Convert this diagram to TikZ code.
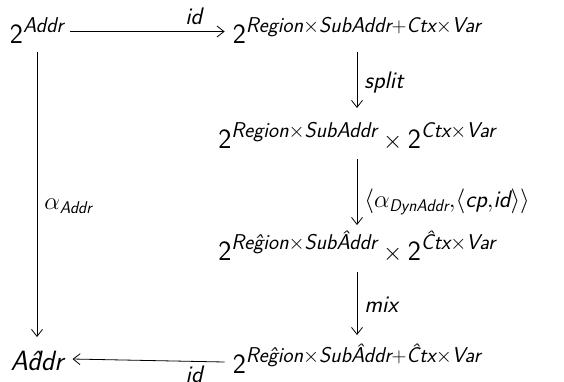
\documentclass[tikz,border=0pt]{standalone}
\usepackage{amsmath}
\usetikzlibrary{arrows.meta}
% object and label sizes with their script sizes
\DeclareMathSizes{28}{28}{21.5}{16}
\DeclareMathSizes{24}{24}{17}{13}
% variable names in sloped sans, the constant 2 in upright sans
\newcommand{\vn}[1]{\textsf{\itshape #1}}
\newcommand{\tw}{\textsf{2}}
\begin{document}
\begin{tikzpicture}[x=1bp,y=-1bp,
  every node/.style={inner sep=0pt},
  obj/.style={anchor=base, font=\fontsize{28}{33}\selectfont},
  lbl/.style={font=\fontsize{24}{28}\selectfont},
  map/.style={line width=0.8bp, -{Straight Barb[length=7bp,width=11bp]}}]
\useasboundingbox (0,0) rectangle (564,381);

% objects
\node[obj] (A) at (37,43) {$\tw^{\vn{Addr}}$};
\node[obj] (B) at (357,43) {$\tw^{\vn{Region}\times\vn{SubAddr}+\vn{Ctx}\times\vn{Var}}$};
\node[obj] (C) at (357,148) {$\tw^{\vn{Region}\times\vn{SubAddr}}\times\tw^{\vn{Ctx}\times\vn{Var}}$};
\node[obj] (D) at (357,260) {$\tw^{\vn{Re\^gion}\times\vn{Sub\^Addr}}\times\tw^{\vn{\^Ctx}\times\vn{Var}}$};
\node[obj] (E) at (357,373) {$\tw^{\vn{Re\^gion}\times\vn{Sub\^Addr}+\vn{\^Ctx}\times\vn{Var}}$};
\node[obj] (F) at (37,370) {$\vn{A\^ddr}$};

% morphisms (label positions are measured along the unshortened base-to-base paths)
\draw[map] ([xshift=6bp,yshift=11.5bp]A.base east) -- ([xshift=-8bp,yshift=11.5bp]B.base west)
  node[lbl, pos=0.8, above=6bp] (l1) {$\vn{id}$};
\draw[map, shorten <=9bp, shorten >=40bp] (B.base) -- (C.base)
  node[lbl, pos=0.38, right=7bp] (l2) {$\vn{split}$};
\draw[map, shorten <=11bp, shorten >=35bp] (C.base) -- (D.base)
  node[lbl, pos=0.48, right=7bp] (l3) {$\langle\alpha_{\vn{DynAddr}}{,}\langle\vn{cp}{,}\vn{id}\rangle\rangle$};
\draw[map, shorten <=12bp, shorten >=38bp] (D.base) -- (E.base)
  node[lbl, pos=0.40, right=7bp] (l4) {$\vn{mix}$};
\draw[map, shorten <=9bp, shorten >=33bp] (A.base) -- (F.base)
  node[lbl, pos=0.50, right=7bp] (l5) {$\alpha_{\vn{Addr}}$};
\draw[map] ([xshift=-8bp,yshift=11bp]E.base west) -- ([xshift=9bp,yshift=11bp]F.base east)
  node[lbl, pos=0.2, below=4bp] (l6) {$\vn{id}$};
\end{tikzpicture}
\end{document}
